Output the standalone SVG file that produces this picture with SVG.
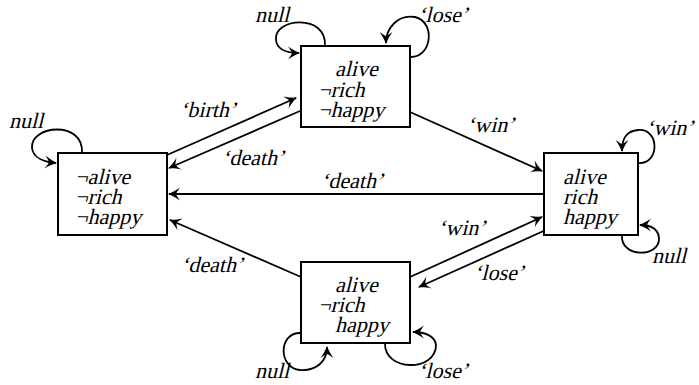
<svg xmlns="http://www.w3.org/2000/svg" width="699" height="385" viewBox="0 0 699 385">
  <defs>
    <marker id="arrow" markerUnits="userSpaceOnUse" markerWidth="16" markerHeight="16" viewBox="-12 -8 14 16" refX="0" refY="0" orient="auto">
      <path d="M1,0 C-3,-1.5 -7,-3.5 -11,-6.5 C-8.5,-3 -7.5,-1.5 -7,0 C-7.5,1.5 -8.5,3 -11,6.5 C-7,3.5 -3,1.5 1,0 Z" fill="#000"/>
    </marker>
    <style>
      .box { fill: #fff; stroke: #000; stroke-width: 2; }
      .edge { fill: none; stroke: #000; stroke-width: 1.8; marker-end: url(#arrow); }
      /* upright serif, slanted by the transform on each text */
      text { font-family: "Liberation Serif", serif; font-size: 22px; fill: #000; }
    </style>
  </defs>
  <rect width="699" height="385" fill="#fff"/>

  <!-- transitions -->
  <g id="connectors">
    <path class="edge" d="M167,155 L296,98"/>
    <path class="edge" d="M300,111 L169,168"/>
    <path class="edge" d="M410,112 L542,171"/>
    <path class="edge" d="M544,194 L169,194"/>
    <path class="edge" d="M301,277 L170,220"/>
    <path class="edge" d="M410,277 L542,217"/>
    <path class="edge" d="M548,229 L419,287"/>
    <!-- self loops -->
    <path class="edge" d="M82,153 C84,120 30,125 32,148 C33,158 45,162 56,163"/>
    <path class="edge" d="M325,46 C327,13 273,18 276,40 C277,50 288,53 299,53"/>
    <path class="edge" d="M410,57 C432,58 436,22 415,17 C398,14 386,28 386,43"/>
    <path class="edge" d="M638,163 C660,165 660,128 638,130 C625,131 622,140 622,151"/>
    <path class="edge" d="M622,235 C620,258 660,258 659,238 C658,228 650,225 640,225"/>
    <path class="edge" d="M301,333 C278,332 278,368 300,370 C318,371 327,360 327,347"/>
    <path class="edge" d="M385,343 C384,372 436,372 436,345 C435,336 425,332 413,332"/>
  </g>

  <!-- transition labels -->
  <g id="labels">
    <text transform="translate(180,117) skewX(-14)">‘birth’</text>
    <text transform="translate(222,165) skewX(-14)">‘death’</text>
    <text transform="translate(467,132) skewX(-14)">‘win’</text>
    <text transform="translate(321,188) skewX(-14)">‘death’</text>
    <text transform="translate(181,272) skewX(-14)">‘death’</text>
    <text transform="translate(438,235) skewX(-14)">‘win’</text>
    <text transform="translate(474,280) skewX(-14)">‘lose’</text>
    <text transform="translate(255,22) skewX(-14)">null</text>
    <text transform="translate(418,22) skewX(-14)">‘lose’</text>
    <text transform="translate(9,128) skewX(-14)">null</text>
    <text transform="translate(646,135) skewX(-14)">‘win’</text>
    <text transform="translate(652,263) skewX(-14)">null</text>
    <text transform="translate(255,378) skewX(-14)">null</text>
    <text transform="translate(418,378) skewX(-14)">‘lose’</text>
  </g>

  <!-- states -->
  <g id="state-dead">
    <rect class="box" x="58" y="153" width="109" height="82"/>
    <text transform="translate(75,184) skewX(-14)">¬alive</text>
    <text transform="translate(75,204) skewX(-14)">¬rich</text>
    <text transform="translate(75,224) skewX(-14)">¬happy</text>
  </g>
  <g id="state-born">
    <rect class="box" x="301" y="46" width="109" height="81"/>
    <text transform="translate(335,76) skewX(-14)">alive</text>
    <text transform="translate(318,97) skewX(-14)">¬rich</text>
    <text transform="translate(318,117) skewX(-14)">¬happy</text>
  </g>
  <g id="state-rich">
    <rect class="box" x="544" y="153" width="94" height="82"/>
    <text transform="translate(563,184) skewX(-14)">alive</text>
    <text transform="translate(563,204) skewX(-14)">rich</text>
    <text transform="translate(563,224) skewX(-14)">happy</text>
  </g>
  <g id="state-happy">
    <rect class="box" x="301" y="262" width="109" height="81"/>
    <text transform="translate(335,292) skewX(-14)">alive</text>
    <text transform="translate(318,312) skewX(-14)">¬rich</text>
    <text transform="translate(335,332) skewX(-14)">happy</text>
  </g>
</svg>
